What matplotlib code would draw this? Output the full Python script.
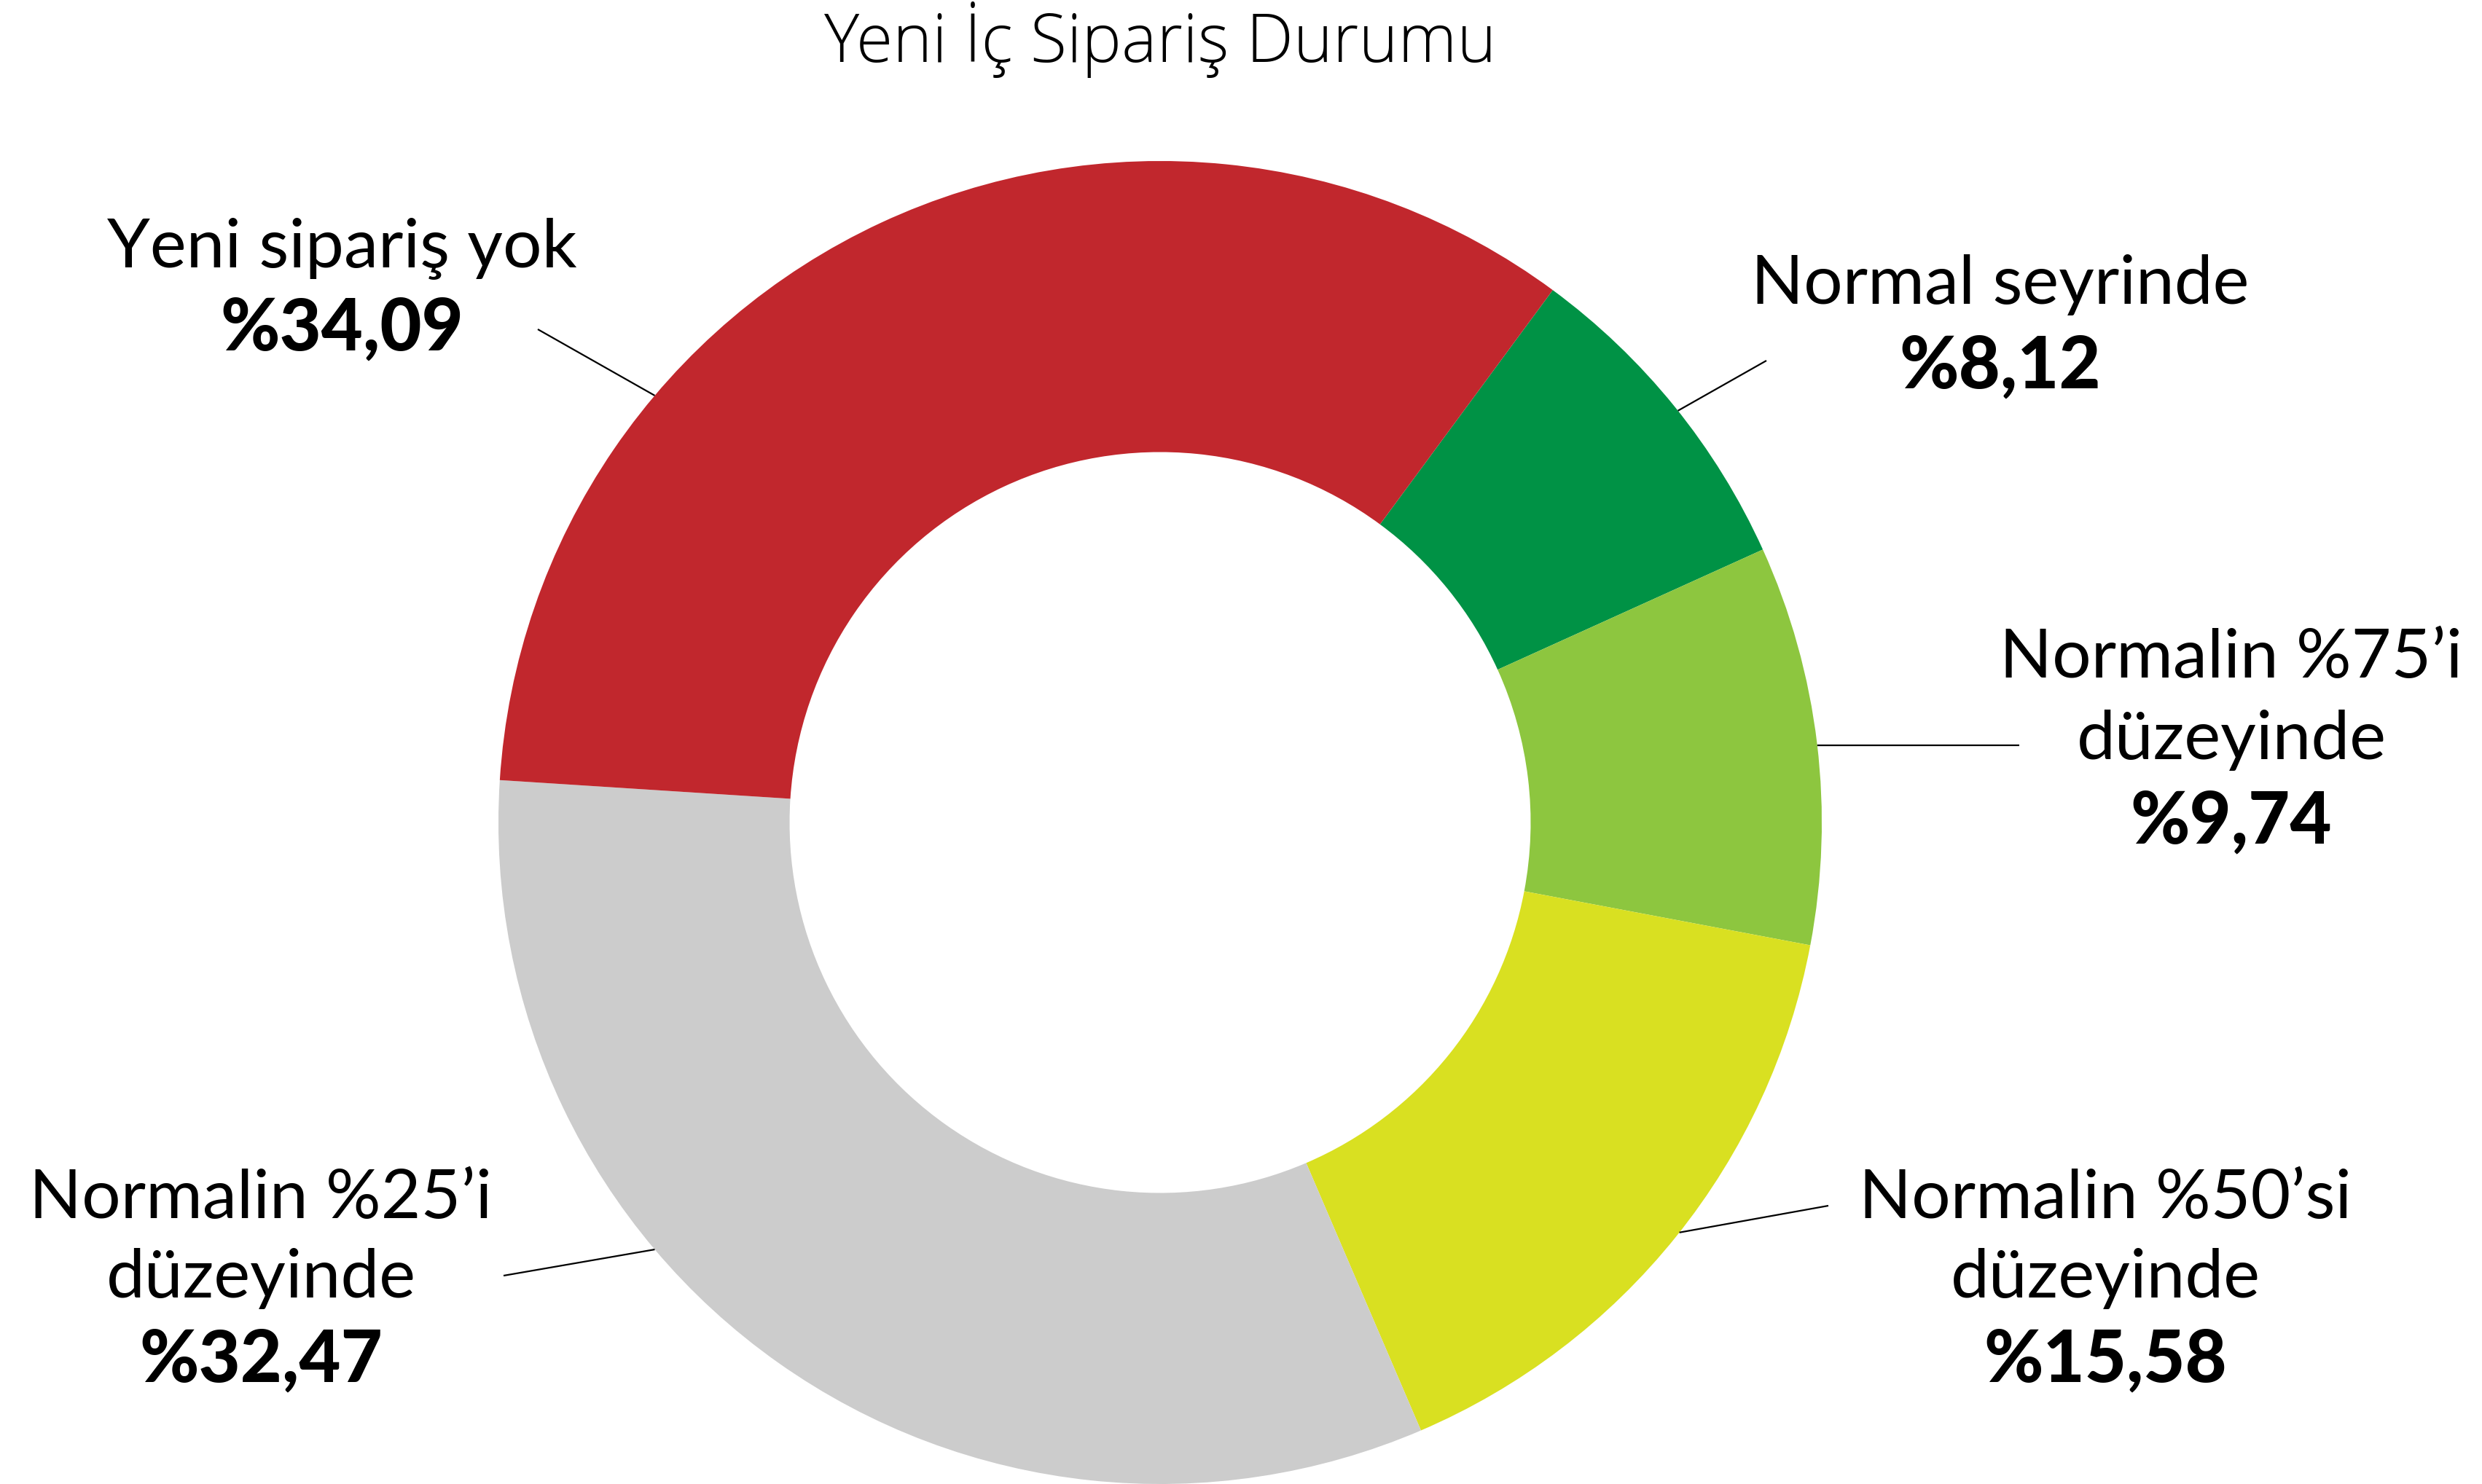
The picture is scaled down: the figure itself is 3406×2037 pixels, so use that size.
import numpy as np
import matplotlib
matplotlib.use("Agg")
import matplotlib.pyplot as plt

# ---- data ----
categories = ["Normal seyrinde", "Normalin %75'i düzeyinde", "Normalin %50'si düzeyinde",
              "Normalin %25'i düzeyinde", "Yeni sipariş yok"]
values = [8.12, 9.74, 15.58, 32.47, 34.09]
label_lines = [["Normal seyrinde"], ["Normalin %75’i", "düzeyinde"], ["Normalin %50’si", "düzeyinde"],
               ["Normalin %25’i", "düzeyinde"], ["Yeni sipariş yok"]]
value_labels = ["%8,12", "%9,74", "%15,58", "%32,47", "%34,09"]
colors = ["#009245", "#8DC63F", "#D9E021", "#CCCCCC", "#C1272D"]
title = "Yeni İç Sipariş Durumu"

W, H = 3406, 2037
DPI = 100
cx, cy, R = 1592, 1129, 908  # pixel layout of donut

fig = plt.figure(figsize=(W / DPI, H / DPI), dpi=DPI)
ax = fig.add_axes([0, 0, 1, 1])
ax.axis("off")

ax.pie(values, colors=colors, startangle=53.6, counterclock=False, radius=1.0,
       wedgeprops=dict(width=0.44, linewidth=0), normalize=True)
ax.set_xlim(-cx / R, (W - cx) / R)
ax.set_ylim(-(H - cy) / R, cy / R)
ax.set_aspect("equal")

def px(x, y):
    return (x - cx) / R, (cy - y) / R

# leader lines: start angle on outer edge, end pixel
leaders = [(38.5, (2424, 495)), (6.7, (2771, 1023)), (-38.3, (2509, 1655)),
           (-139.8, (691, 1751)), (139.8, (738, 452))]
for ang, end in leaders:
    a = np.deg2rad(ang)
    x0, y0 = np.cos(a), np.sin(a)
    x1, y1 = px(*end)
    ax.plot([x0, x1], [y0, y1], color="black", lw=1.6, solid_capstyle="butt")

# label layout: center x, y of each line (pixels)
label_pos = [(2745, [391, 504]), (3062, [904, 1016, 1129]), (2889, [1646, 1755, 1868]),
             (358, [1646, 1755, 1868]), (469, [341, 452])]
fam = ["Lato", "DejaVu Sans"]
for lines, vl, (x, ys) in zip(label_lines, value_labels, label_pos):
    for ln, y in zip(lines, ys[:-1]):
        ax.text(*px(x, y), ln, ha="center", va="center", fontsize=68,
                family=fam, color="black")
    ax.text(*px(x, ys[-1]), vl, ha="center", va="center", fontsize=71,
            family=fam, fontweight="black", color="black")

ax.text(*px(1592, 54), title, ha="center", va="center", fontsize=66,
        family=["Open Sans", "DejaVu Sans"], fontweight="light", color="black")

fig.savefig("out.png", dpi=DPI)
